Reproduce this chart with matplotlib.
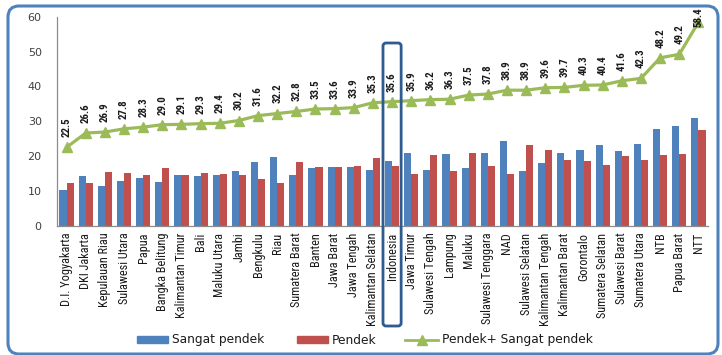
import matplotlib
matplotlib.use("Agg")
import matplotlib.pyplot as plt
import numpy as np
from matplotlib.patches import FancyBboxPatch, Rectangle
from matplotlib.lines import Line2D
from matplotlib.transforms import IdentityTransform
from matplotlib import font_manager

provinces = [
    "D.I. Yogyakarta", "DKI Jakarta", "Kepulauan Riau", "Sulawesi Utara", "Papua",
    "Bangka Belitung", "Kalimantan Timur", "Bali", "Maluku Utara", "Jambi",
    "Bengkulu", "Riau", "Sumatera Barat", "Banten", "Jawa Barat", "Jawa Tengah",
    "Kalimantan Selatan", "Indonesia", "Jawa Timur", "Sulawesi Tengah", "Lampung",
    "Maluku", "Sulawesi Tenggara", "NAD", "Sulawesi Selatan", "Kalimantan Tengah",
    "Kalimantan Barat", "Gorontalo", "Sumatera Selatan", "Sulawesi Barat",
    "Sumatera Utara", "NTB", "Papua Barat", "NTT",
]
sangat_pendek = [10.2, 14.4, 11.4, 12.8, 13.7, 12.5, 14.5, 14.3, 14.5, 15.6,
                 18.2, 19.8, 14.5, 16.7, 16.8, 16.8, 16.0, 18.5, 21.0, 16.0,
                 20.6, 16.6, 20.8, 24.2, 15.7, 18.0, 20.8, 21.6, 23.1, 21.5,
                 23.5, 27.8, 28.6, 30.9]
pendek = [12.3, 12.2, 15.5, 15.0, 14.6, 16.5, 14.6, 15.0, 14.9, 14.6,
          13.4, 12.4, 18.3, 16.8, 16.8, 17.1, 19.3, 17.1, 14.9, 20.2,
          15.7, 20.9, 17.0, 14.7, 23.2, 21.6, 18.9, 18.7, 17.3, 20.1,
          18.8, 20.4, 20.6, 27.5]
total = [22.5, 26.6, 26.9, 27.8, 28.3, 29.0, 29.1, 29.3, 29.4, 30.2,
         31.6, 32.2, 32.8, 33.5, 33.6, 33.9, 35.3, 35.6, 35.9, 36.2,
         36.3, 37.5, 37.8, 38.9, 38.9, 39.6, 39.7, 40.3, 40.4, 41.6,
         42.3, 48.2, 49.2, 58.4]
highlight = "Indonesia"
yticks = [0, 10, 20, 30, 40, 50, 60]

BLUE = "#4F81BD"
RED = "#C0504D"
GREEN = "#9BBB59"


def _is_bold(f):
    try:
        return int(f.weight) >= 600
    except (TypeError, ValueError):
        return str(f.weight) in ("bold", "semibold", "demibold", "heavy", "black")


def _is_regular(f):
    try:
        return 380 <= int(f.weight) <= 450
    except (TypeError, ValueError):
        return str(f.weight) in ("normal", "regular", "book", "medium")


def condensed_font(weight):
    """Pick an upright narrow face if one is installed, otherwise Liberation Sans."""
    names = ["Liberation Sans Narrow", "Arial Narrow", "Roboto Condensed",
             "Open Sans Condensed", "Noto Sans Condensed", "DejaVu Sans Condensed"]
    entries = font_manager.fontManager.ttflist
    ok = _is_bold if weight == "bold" else _is_regular
    for nm in names:
        for f in entries:
            if f.name == nm and f.style == "normal" and ok(f):
                return font_manager.FontProperties(fname=f.fname)
    for f in entries:
        st = str(f.stretch)
        if f.name in ("Noto Sans", "Open Sans", "DejaVu Sans", "Roboto") and \
                ("condensed" in st or st in ("75", "62", "50")) and \
                f.style == "normal" and ok(f):
            return font_manager.FontProperties(fname=f.fname)
    return font_manager.FontProperties(family=["Liberation Sans", "DejaVu Sans"],
                                       weight=weight)


W, H = 722, 355
fig = plt.figure(figsize=(W / 100, H / 100), dpi=100)


def px(x0, y0):
    return x0 / W, 1 - y0 / H


ax = fig.add_axes([57 / W, 1 - 225.7 / H, (708 - 57) / W, (225.7 - 16.7) / H])

x = np.arange(len(provinces))
bw = 0.37
ax.bar(x - bw / 2, sangat_pendek, width=bw, color=BLUE, zorder=2)
ax.bar(x + bw / 2, pendek, width=bw, color=RED, zorder=2)
ax.plot(x, total, color=GREEN, lw=2.3, marker="^", markersize=7,
        markerfacecolor=GREEN, markeredgecolor=GREEN, zorder=3, clip_on=False)

fp_lbl = condensed_font("bold")
fp_lbl.set_size(7.8)
for xi, v in zip(x, total):
    base = min(v + 2.9, 57.0)
    ax.text(xi, base, f"{v:.1f}", rotation=90, ha="center", va="bottom",
            fontproperties=fp_lbl, color="#1a1a1a", zorder=4, clip_on=False)

ax.set_xlim(-0.5, len(provinces) - 0.5)
ax.set_ylim(0, 60)
ax.set_yticks(yticks)
ax.set_yticklabels([str(t) for t in yticks], fontsize=8, color="#404040")
ax.tick_params(axis="y", length=0, pad=11)

fp_cat = condensed_font("normal")
fp_cat.set_size(8.8)
ax.set_xticks(x)
ax.set_xticklabels(provinces, rotation=90, fontproperties=fp_cat,
                   color="#1a1a1a", va="top", ha="center")
ax.tick_params(axis="x", length=0, pad=5)
for side in ("top", "right"):
    ax.spines[side].set_visible(False)
for side in ("left", "bottom"):
    ax.spines[side].set_color("#8c8c8c")
    ax.spines[side].set_linewidth(0.9)
ax.set_facecolor("none")

# frame around the national figure (display pixels, origin bottom-left)
idx = provinces.index(highlight)
x_left = ax.transData.transform((idx - 0.5, 0))[0] + 0.5
x_right = ax.transData.transform((idx + 0.5, 0))[0] - 0.5
y_top = H - 43
y_bot = H - 326
box = FancyBboxPatch((x_left, y_bot), x_right - x_left, y_top - y_bot,
                     boxstyle="round,pad=0,rounding_size=3",
                     transform=IdentityTransform(), fill=False,
                     edgecolor="#2F5B8E", lw=2.0, zorder=5)
fig.add_artist(box)

# legend
ly = 340
fig.add_artist(Rectangle(px(137, ly + 3), 31 / W, 7 / H, transform=fig.transFigure,
                         color=BLUE))
fig.text(*px(172, ly), "Sangat pendek", fontsize=8.8, color="#1a1a1a",
         va="center", ha="left")
fig.add_artist(Rectangle(px(297, ly + 3), 31 / W, 7 / H, transform=fig.transFigure,
                         color=RED))
fig.text(*px(332, ly), "Pendek", fontsize=8.8, color="#1a1a1a",
         va="center", ha="left")
fig.add_artist(Line2D([405 / W, 438 / W], [1 - (ly - 0.5) / H] * 2,
                      transform=fig.transFigure, color=GREEN, lw=2.0))
fig.add_artist(Line2D([421.5 / W], [1 - (ly - 0.5) / H], transform=fig.transFigure,
                      color=GREEN, marker="^", markersize=7))
fig.text(*px(442, ly), "Pendek+ Sangat pendek", fontsize=8.8, color="#1a1a1a",
         va="center", ha="left")

# rounded outer frame (display pixels)
frame = FancyBboxPatch((8, H - 354), 718 - 8, 354 - 6,
                       boxstyle="round,pad=0,rounding_size=11",
                       transform=IdentityTransform(), fill=False,
                       edgecolor="#4F81BD", lw=2.2)
fig.add_artist(frame)

fig.savefig("out.png", dpi=100)
